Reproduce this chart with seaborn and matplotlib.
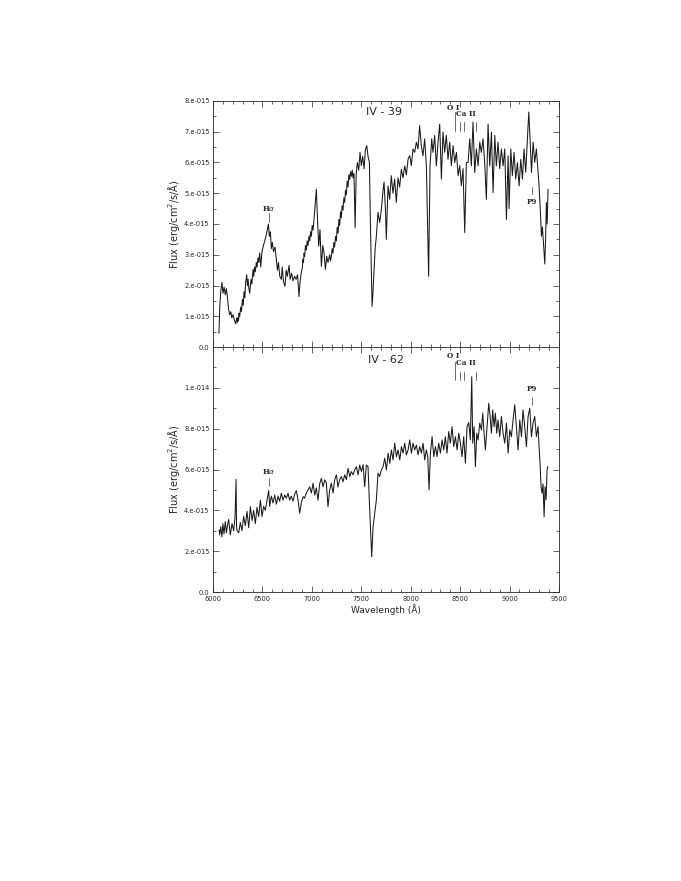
import numpy as np
import pandas as pd
import matplotlib
matplotlib.use("Agg")
import matplotlib.pyplot as plt
import seaborn as sns

# IV - 39 spectrum (wavelength in A, flux in 1e-15 erg/cm2/s/A)
wave_39 = [6060, 6068, 6078, 6090, 6101, 6112, 6124, 6135, 6145, 6158, 6169, 6180, 6190, 6202,
           6214, 6229, 6240, 6247, 6252, 6258, 6263, 6270, 6280, 6288, 6297, 6305, 6314, 6322,
           6330, 6341, 6348, 6355, 6363, 6371, 6378, 6385, 6393, 6405, 6412, 6420, 6428, 6438,
           6446, 6455, 6463, 6472, 6483, 6495, 6510, 6523, 6535, 6550, 6560, 6570, 6580, 6590,
           6600, 6612, 6627, 6640, 6652, 6662, 6675, 6691, 6700, 6712, 6728, 6740, 6752, 6769,
           6780, 6795, 6809, 6825, 6840, 6855, 6870, 6880, 6892, 6904, 6910, 6915, 6921, 6927,
           6935, 6944, 6952, 6961, 6970, 6978, 6987, 6995, 7003, 7012, 7020, 7028, 7045, 7055,
           7069, 7082, 7096, 7110, 7123, 7137, 7150, 7163, 7180, 7188, 7197, 7205, 7214, 7222,
           7230, 7240, 7248, 7256, 7265, 7273, 7281, 7290, 7298, 7306, 7315, 7323, 7332, 7340,
           7349, 7357, 7366, 7374, 7383, 7391, 7400, 7408, 7416, 7426, 7437, 7448, 7460, 7474,
           7487, 7500, 7514, 7528, 7541, 7555, 7568, 7582, 7592, 7609, 7620, 7629, 7640, 7652,
           7669, 7686, 7703, 7720, 7730, 7745, 7753, 7770, 7787, 7803, 7820, 7837, 7854, 7871,
           7888, 7905, 7922, 7939, 7956, 7973, 7990, 8006, 8023, 8040, 8057, 8074, 8090, 8107,
           8124, 8141, 8158, 8181, 8195, 8212, 8225, 8242, 8259, 8276, 8293, 8310, 8326, 8343,
           8360, 8377, 8394, 8411, 8428, 8445, 8462, 8479, 8496, 8512, 8529, 8546, 8563, 8580,
           8597, 8613, 8630, 8647, 8664, 8681, 8698, 8714, 8731, 8748, 8765, 8782, 8799, 8816,
           8833, 8850, 8866, 8883, 8900, 8917, 8934, 8951, 8968, 8985, 8995, 9012, 9028, 9045,
           9062, 9079, 9096, 9113, 9130, 9146, 9163, 9180, 9194, 9207, 9221, 9238, 9254, 9271,
           9288, 9298, 9312, 9322, 9332, 9345, 9356, 9364, 9372, 9380, 9389]
flux_39 = [0.45, 1.3, 1.8, 2.1, 1.75, 1.95, 1.7, 1.9, 1.64, 1.21, 1.05, 1.15, 0.95, 1.05,
           0.9, 0.75, 0.95, 0.8, 0.95, 0.85, 1.1, 1.0, 1.3, 1.15, 1.55, 1.35, 1.8, 1.6,
           2.1, 2.35, 2.0, 2.2, 1.9, 1.75, 2.0, 2.2, 2.05, 2.52, 2.3, 2.6, 2.45, 2.75,
           2.6, 2.9, 2.75, 3.06, 2.6, 3.1, 3.3, 3.45, 3.6, 3.82, 4.0, 3.6, 3.75, 3.2,
           3.4, 3.1, 3.25, 2.85, 2.5, 2.75, 2.3, 2.2, 2.6, 2.15, 1.97, 2.5, 2.3, 2.65,
           2.2, 2.4, 2.15, 2.3, 2.2, 2.35, 1.64, 2.1, 2.4, 2.6, 2.85, 2.75, 3.05, 2.95,
           3.3, 3.15, 3.45, 3.3, 3.6, 3.45, 3.75, 3.6, 3.95, 3.8, 4.1, 4.4, 5.13, 4.3,
           3.28, 3.82, 2.62, 3.3, 3.05, 2.52, 2.95, 2.75, 3.0, 2.8, 2.95, 3.2, 3.05, 3.4,
           3.25, 3.6, 3.45, 3.9, 3.7, 4.15, 3.95, 4.4, 4.2, 4.6, 4.45, 4.85, 4.7, 5.1,
           4.95, 5.4, 5.2, 5.6, 5.45, 5.7, 5.55, 5.75, 5.5, 5.65, 3.88, 5.6, 6.0, 5.75,
           6.33, 5.9, 6.2, 5.8, 6.4, 6.55, 6.2, 6.0, 4.0, 1.32, 1.9, 2.52, 3.2, 3.6,
           4.38, 4.05, 4.48, 5.1, 5.36, 4.4, 3.5, 5.24, 4.8, 5.57, 5.0, 5.46, 4.7, 5.5,
           5.2, 5.78, 5.5, 5.89, 5.6, 6.11, 6.22, 5.9, 6.44, 6.33, 6.66, 6.44, 7.2, 6.55,
           6.22, 6.77, 5.89, 2.3, 5.89, 6.77, 6.33, 6.88, 5.89, 6.66, 7.25, 5.46, 6.99, 6.33,
           6.88, 6.1, 6.66, 5.9, 6.55, 6.0, 6.33, 5.57, 5.9, 5.24, 5.8, 3.72, 6.0, 6.0,
           6.77, 5.89, 7.31, 5.67, 6.44, 5.89, 6.66, 6.33, 6.77, 5.99, 4.8, 7.25, 5.89, 6.99,
           5.02, 6.88, 5.89, 6.66, 5.8, 6.44, 5.89, 6.44, 4.15, 6.22, 4.5, 6.44, 5.57, 6.33,
           5.46, 5.99, 5.24, 6.1, 5.46, 6.44, 5.68, 6.77, 7.64, 6.77, 5.68, 6.66, 6.0, 6.44,
           5.68, 5.24, 4.37, 3.6, 3.9, 3.25, 2.7, 3.5, 4.7, 4.0, 5.13]

# IV - 62 spectrum
wave_62 = [6061, 6068, 6078, 6090, 6100, 6111, 6124, 6135, 6147, 6158, 6175, 6192, 6209, 6223,
           6233, 6238, 6243, 6260, 6276, 6293, 6310, 6327, 6344, 6361, 6378, 6395, 6411, 6428,
           6445, 6462, 6479, 6496, 6512, 6529, 6546, 6563, 6573, 6590, 6607, 6624, 6641, 6658,
           6674, 6691, 6708, 6725, 6742, 6759, 6775, 6792, 6809, 6826, 6843, 6860, 6877, 6894,
           6911, 6927, 6944, 6961, 6978, 6995, 7012, 7029, 7045, 7062, 7079, 7096, 7113, 7130,
           7146, 7163, 7180, 7197, 7214, 7231, 7248, 7264, 7281, 7298, 7315, 7332, 7349, 7366,
           7383, 7399, 7416, 7433, 7450, 7467, 7484, 7501, 7518, 7534, 7551, 7568, 7578, 7592,
           7605, 7619, 7636, 7652, 7669, 7686, 7703, 7720, 7737, 7754, 7771, 7788, 7804, 7821,
           7838, 7855, 7872, 7889, 7906, 7922, 7939, 7956, 7973, 7990, 8007, 8023, 8040, 8057,
           8074, 8091, 8108, 8125, 8141, 8158, 8172, 8185, 8199, 8216, 8233, 8250, 8266, 8283,
           8300, 8317, 8334, 8350, 8367, 8384, 8401, 8418, 8435, 8452, 8469, 8486, 8502, 8519,
           8536, 8553, 8570, 8587, 8603, 8617, 8627, 8641, 8654, 8668, 8681, 8698, 8715, 8728,
           8742, 8755, 8772, 8789, 8803, 8816, 8829, 8843, 8856, 8870, 8883, 8900, 8917, 8934,
           8951, 8968, 8985, 9002, 9018, 9035, 9052, 9069, 9086, 9103, 9120, 9136, 9153, 9170,
           9187, 9204, 9221, 9237, 9254, 9271, 9288, 9298, 9308, 9318, 9328, 9338, 9349, 9359,
           9369, 9379, 9386]
flux_62 = [3.04, 2.8, 3.2, 2.7, 3.35, 2.85, 3.45, 2.9, 3.3, 3.55, 2.8, 3.35, 3.0, 3.69,
           5.52, 3.2, 3.0, 2.9, 3.4, 3.0, 3.7, 3.25, 3.95, 3.15, 4.18, 3.5, 4.0, 3.35,
           4.15, 3.7, 4.5, 3.7, 4.2, 4.0, 4.5, 4.97, 4.2, 4.7, 4.36, 4.75, 4.3, 4.7,
           4.45, 4.84, 4.5, 4.75, 4.6, 4.84, 4.5, 4.7, 4.45, 4.8, 4.97, 4.5, 3.86, 4.4,
           4.67, 4.6, 4.85, 5.0, 5.15, 4.85, 5.33, 4.75, 5.1, 4.5, 5.3, 5.57, 5.15, 5.5,
           5.35, 4.18, 5.0, 5.33, 4.85, 5.5, 5.74, 5.15, 5.5, 5.66, 5.4, 5.74, 5.5, 6.06,
           5.66, 5.9, 5.74, 5.98, 6.14, 5.74, 6.22, 5.9, 6.24, 5.16, 6.22, 6.14, 4.84, 3.2,
           1.73, 3.2, 3.86, 4.5, 5.83, 5.66, 5.98, 6.14, 6.55, 5.98, 6.8, 6.3, 6.96, 6.47,
           7.29, 6.63, 6.96, 6.47, 7.12, 6.8, 7.29, 6.72, 6.96, 7.45, 6.8, 7.29, 6.96, 7.2,
           6.72, 7.12, 6.8, 7.29, 6.47, 6.96, 6.63, 5.0, 6.8, 7.61, 6.63, 7.12, 6.63, 7.29,
           6.8, 7.45, 6.96, 7.61, 6.8, 7.86, 7.29, 8.1, 7.12, 7.61, 6.96, 7.78, 7.29, 6.63,
           7.61, 6.31, 8.1, 8.3, 7.45, 10.55, 7.29, 8.1, 6.14, 7.78, 7.45, 8.27, 7.94, 8.76,
           7.78, 6.96, 8.1, 9.25, 8.6, 7.78, 8.92, 8.1, 8.76, 7.78, 8.43, 7.61, 8.6, 7.78,
           7.29, 8.27, 6.8, 7.94, 7.61, 8.43, 9.17, 8.1, 6.96, 8.43, 7.61, 8.92, 8.1, 7.12,
           8.6, 9.0, 7.61, 8.27, 8.6, 7.61, 8.1, 7.12, 6.31, 5.16, 4.84, 5.3, 3.69, 5.16,
           4.52, 5.98, 6.14]

# line identifications: label, wavelengths of tick marks
line_ids = [("H$\\alpha$", [6563]), ("O I", [8446]), ("Ca II", [8498, 8542, 8662]), ("P9", [9229])]

sns.set_style("ticks")
plt.rcParams['font.family'] = ['DejaVu Sans']

fig = plt.figure(figsize=(6.81, 8.81), dpi=100)
ax1 = fig.add_axes([0.3128, 0.6061, 0.5081, 0.2793])
ax2 = fig.add_axes([0.3128, 0.3280, 0.5081, 0.2781])

df39 = pd.DataFrame({"wave": wave_39, "flux": np.array(flux_39) * 1e-15})
df62 = pd.DataFrame({"wave": wave_62, "flux": np.array(flux_62) * 1e-15})

sns.lineplot(data=df39, x="wave", y="flux", ax=ax1, color="#1a1a1a", lw=0.75)
sns.lineplot(data=df62, x="wave", y="flux", ax=ax2, color="#1a1a1a", lw=0.75)

# axes limits & ticks
ax1.set_ylim(0, 8e-15)
ax2.set_ylim(0, 1.2e-14)
top_ticks = [i * 1e-15 for i in range(9)]
top_labels = ["0.0"] + ["%d.e-015" % i for i in range(1, 9)]
bot_ticks = [i * 2e-15 for i in range(6)]
bot_labels = ["0.0", "2.e-015", "4.e-015", "6.e-015", "8.e-015", "1.e-014"]
ax1.set_yticks(top_ticks)
ax1.set_yticklabels(top_labels)
ax1.set_yticks([(i + 0.5) * 1e-15 for i in range(8)], minor=True)
ax2.set_yticks(bot_ticks)
ax2.set_yticklabels(bot_labels)
ax2.set_yticks([(2 * i + 1) * 1e-15 for i in range(6)], minor=True)

for ax in (ax1, ax2):
    ax.set_xlim(6000, 9500)
    ax.set_xticks(range(6000, 9501, 500))
    ax.set_xticks(range(6000, 9501, 100), minor=True)
    ax.tick_params(which="both", direction="in", top=True, right=True,
                   labelsize=4.8, width=0.5, pad=2.5)
    ax.tick_params(which="major", length=4)
    ax.tick_params(which="minor", length=2)
    for s in ax.spines.values():
        s.set_linewidth(0.6)
    ax.set_ylabel("Flux (erg/cm$^2$/s/Å)", fontsize=7, labelpad=1.5)
    ax.set_xlabel("")

ax1.tick_params(axis="x", labelbottom=False)
ax2.set_xticklabels([str(v) for v in range(6000, 9501, 500)])
ax2.set_xlabel("Wavelength (Å)", fontsize=6.5, labelpad=2)

ax1.text(7730, 7.65e-15, "IV - 39", fontsize=8, ha="center", va="center")
ax2.text(7750, 11.37e-15, "IV - 62", fontsize=8, ha="center", va="center")

# line id marks: label y, tick bottom, tick top (units of 1e-15)
marks = {
    ax1: {"H$\\alpha$": (4.5, 4.06, 4.35), "O I": (7.78, 7.02, 7.64),
          "Ca II": (7.56, 7.02, 7.31), "P9": (4.73, 4.97, 5.2)},
    ax2: {"H$\\alpha$": (5.9, 5.21, 5.6), "O I": (11.57, 10.39, 11.29),
          "Ca II": (11.21, 10.39, 10.8), "P9": (9.94, 9.17, 9.57)},
}
text_x = {"H$\\alpha$": 6563, "O I": 8428, "Ca II": 8555, "P9": 9226}
for ax, d in marks.items():
    for label, waves in line_ids:
        ty, y0, y1 = d[label]
        for w in waves:
            ax.plot([w, w], [y0 * 1e-15, y1 * 1e-15], color="#555555", lw=0.6)
        ax.text(text_x[label], ty * 1e-15, label, fontsize=5.2, fontweight="bold",
                family="DejaVu Serif", ha="center", va="center")

fig.savefig("out.png", dpi=100, facecolor="white")
